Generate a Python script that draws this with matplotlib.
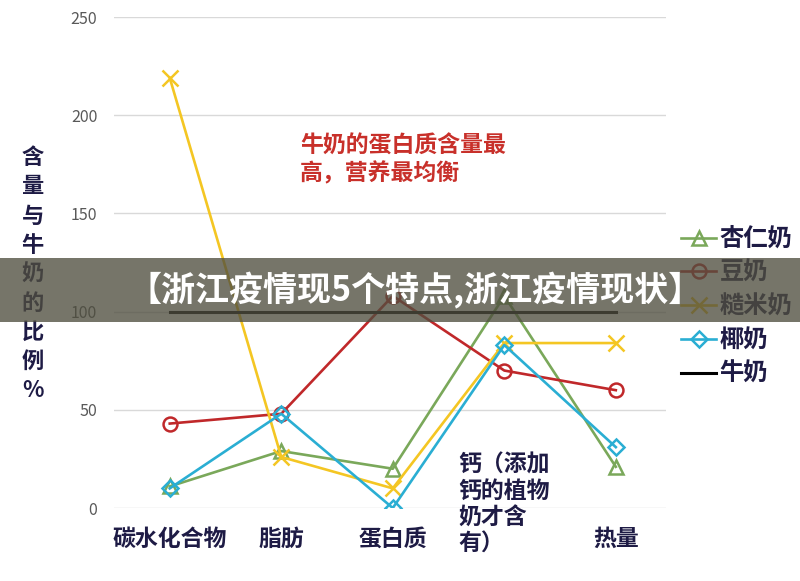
import matplotlib
matplotlib.use('Agg')
import matplotlib.pyplot as plt
from matplotlib.patches import Rectangle

plt.rcParams['font.family'] = ['Noto Sans CJK SC', 'DejaVu Sans']

categories = ['碳水化合物', '脂肪', '蛋白质', '钙（添加\n钙的植物\n奶才含\n有）', '热量']
almond = [11, 29, 20, 108, 21]     # 杏仁奶
soy = [43, 48, 108, 70, 60]        # 豆奶
rice = [219, 26, 10, 84, 84]       # 糙米奶
coconut = [10, 48, 0, 83, 31]      # 椰奶
milk = [100, 100, 100, 100, 100]   # 牛奶
yticks = [0, 50, 100, 150, 200, 250]

navy = '#1e1b45'
fig = plt.figure(figsize=(8, 5.81), dpi=100)
ax = fig.add_axes([0.1425, 0.1256, 0.69, 0.8451])

x = range(len(categories))
lw = 1.9
ax.plot(x, almond, '-^', color='#7aa85a', lw=lw, ms=10, mfc='none', mew=1.8, label='杏仁奶')
ax.plot(x, soy, '-o', color='#c0282a', lw=lw, ms=10, mfc='none', mew=1.8, label='豆奶')
ax.plot(x, rice, '-x', color='#f4c623', lw=lw, ms=11, mew=1.8, label='糙米奶')
ax.plot(x, coconut, '-D', color='#2aaed3', lw=lw, ms=8.5, mfc='none', mew=1.8, label='椰奶')
ax.plot(x, milk, '-', color='black', lw=2.2, label='牛奶')

ax.set_xlim(-0.5, 4.45)
ax.set_ylim(0, 250)
ax.set_yticks(yticks)
ax.tick_params(axis='y', length=0, pad=12, labelsize=11.5, labelcolor='#595959')
ax.grid(axis='y', color='#d9d9d9', lw=1)
ax.set_axisbelow(True)
for s in ax.spines.values():
    s.set_visible(False)

ax.set_xticks(list(x))
ax.set_xticklabels([c if i != 3 else '' for i, c in enumerate(categories)],
                   fontsize=16.5, fontweight='bold', color=navy)
ax.tick_params(axis='x', length=0, pad=14)
ax.text(2.585, 28, categories[3], ha='left', va='top', fontsize=16.5,
        fontweight='bold', color=navy, linespacing=1.2, clip_on=False)

ax.text(1.17, 190, '牛奶的蛋白质含量最\n高，营养最均衡', ha='left', va='top',
        fontsize=16.5, fontweight='bold', color='#c8302a', linespacing=1.2)

fig.text(0.041, 0.528, '\n'.join('含量与牛奶的比例%'), ha='center', va='center',
         fontsize=16, fontweight='bold', color=navy, linespacing=1.34)

leg = ax.legend(loc='upper left', bbox_to_anchor=(0.836, 0.63), bbox_transform=fig.transFigure,
                frameon=False, fontsize=17.5, handlelength=1.45, handletextpad=0.15,
                labelspacing=0.4, borderpad=0)
for t in leg.get_texts():
    t.set_color(navy)
    t.set_fontweight('bold')

fig.patches.append(Rectangle((0, 1 - 322 / 581), 1, 64 / 581, transform=fig.transFigure,
                             facecolor='#4f4e3f', alpha=0.78, zorder=10))
fig.text(0.519, 1 - 290 / 581, '【浙江疫情现5个特点,浙江疫情现状】', ha='center', va='center',
         fontsize=24.5, fontweight='bold', color='white', zorder=11)

fig.savefig('out.png', dpi=100)
